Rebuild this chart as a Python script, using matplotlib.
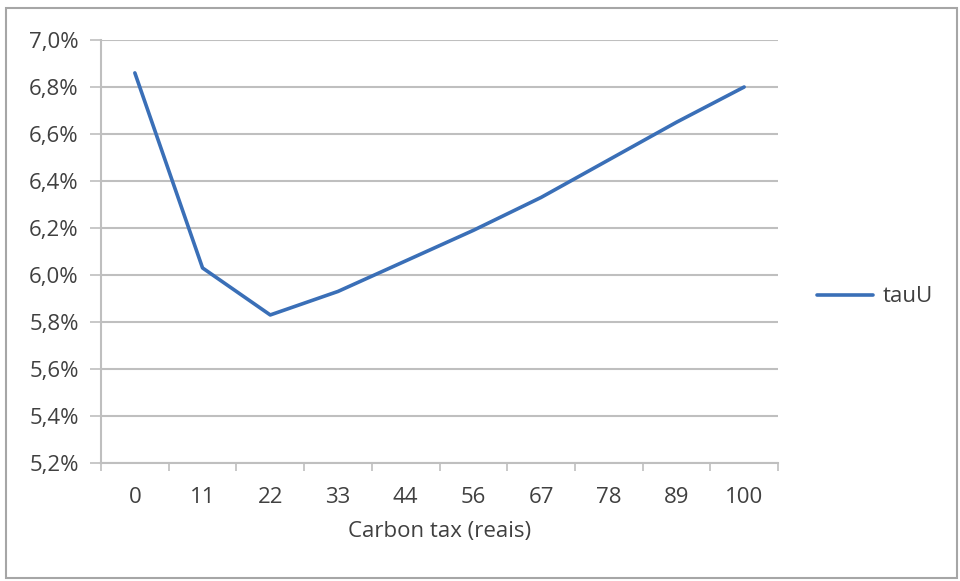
import numpy as np
import matplotlib.pyplot as plt
from matplotlib.patches import Rectangle
from matplotlib.ticker import FixedLocator, FuncFormatter

# values
categories = ["0", "11", "22", "33", "44", "56", "67", "78", "89", "100"]
tau_u = [6.86, 6.03, 5.83, 5.93, 6.06, 6.19, 6.33, 6.49, 6.65, 6.80]
y_ticks = [5.2, 5.4, 5.6, 5.8, 6.0, 6.2, 6.4, 6.6, 6.8, 7.0]

grey = "#BFBFBF"
text_col = "#404040"
line_col = "#3A6FB7"

plt.rcParams['font.family'] = ['Open Sans', 'DejaVu Sans']

fig = plt.figure(figsize=(9.6, 5.81), dpi=100)
fig.patches.append(Rectangle((6 / 960, 3 / 581), 951 / 960, 570 / 581,
                             transform=fig.transFigure, fill=False,
                             edgecolor="#A6A6A6", linewidth=1.5))

ax = fig.add_axes([101 / 960, 1 - 463 / 581, 677 / 960, 423 / 581])

x = np.arange(len(categories))
ax.plot(x, tau_u, color=line_col, linewidth=2.6, label="tauU",
        solid_joinstyle="round", solid_capstyle="round")

ax.set_xlim(-0.5, len(categories) - 0.5)
ax.set_ylim(5.2, 7.0)
ax.set_yticks(y_ticks)
ax.yaxis.set_major_formatter(FuncFormatter(lambda v, p: f"{v:.1f}%".replace(".", ",")))
ax.set_xticks(x)
ax.set_xticklabels(categories)
ax.xaxis.set_minor_locator(FixedLocator(np.arange(-0.5, len(categories), 1.0)))

ax.grid(axis="y", color=grey, linewidth=1.5)
ax.set_axisbelow(True)
for side in ["top", "right"]:
    ax.spines[side].set_visible(False)
for side in ["left", "bottom"]:
    ax.spines[side].set_color(grey)
    ax.spines[side].set_linewidth(1.5)

ax.tick_params(axis="y", length=8, width=1.2, color=grey, pad=8,
               labelsize=16, labelcolor=text_col)
ax.tick_params(axis="x", which="major", length=0, pad=17,
               labelsize=16, labelcolor=text_col)
ax.tick_params(axis="x", which="minor", length=6, width=1.2, color=grey)

ax.set_xlabel("Carbon tax (reais)", fontsize=16, color=text_col, labelpad=10)

ax.legend(loc="center left", bbox_to_anchor=(797 / 960, 1 - 297 / 581),
          bbox_transform=fig.transFigure, frameon=False, fontsize=16,
          handlelength=2.5, handletextpad=0.45, labelcolor=text_col)

fig.savefig("out.png", dpi=100)
